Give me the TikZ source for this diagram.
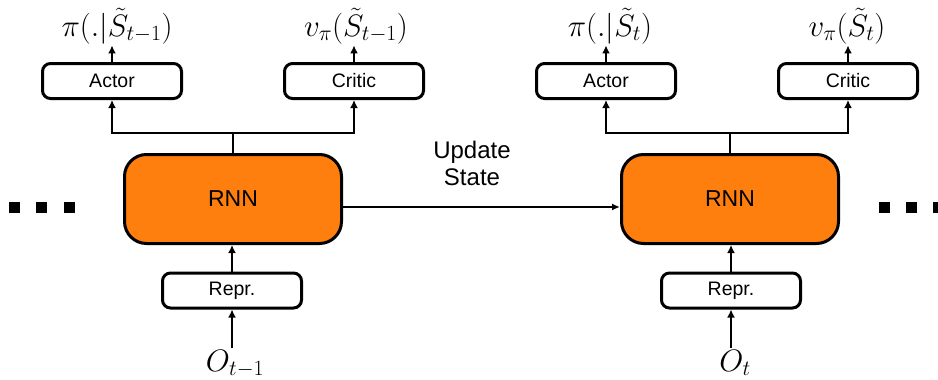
\RequirePackage{fix-cm}
\documentclass[tikz,border=0pt]{standalone}
\usepackage[no-math]{fontspec}
\setmainfont{Liberation Sans}
\usetikzlibrary{arrows.meta}
\definecolor{rnnorange}{RGB}{255,127,14}
\begin{document}
\begin{tikzpicture}[x=1pt,y=-1pt,
  smallbox/.style={draw, line width=3pt, rounded corners=8pt, minimum width=139pt, minimum height=35pt, inner sep=0pt, fill=white, font=\fontsize{19.5}{22}\selectfont},
  rnnbox/.style={draw, line width=3pt, rounded corners=22pt, fill=rnnorange, minimum width=217pt, minimum height=89pt, inner sep=0pt, font=\fontsize{23}{26}\selectfont},
  mlabel/.style={inner sep=1.5pt, font=\fontsize{31}{34}\selectfont},
  arr/.style={line width=2.8pt, -{Latex[length=8pt,width=8pt]}},
  thinarr/.style={line width=2pt, -{Latex[length=8pt,width=7pt]}},
  sq/.style={fill=black, minimum size=11pt, inner sep=0pt},
  note/.style={align=center, font=\fontsize{24}{27}\selectfont}]
\useasboundingbox (0,0) rectangle (938,380);

% ---- left step ----
\node[smallbox] (actor1) at (112,81) {Actor};
\node[smallbox] (critic1) at (354,81) {Critic};
\node[rnnbox] (rnn1) at (233,199) {RNN};
\node[smallbox] (repr1) at (232,290.5) {Repr.};
\node[mlabel, anchor=base] (pi1) at (117,36) {$\pi(.|\tilde{S}_{t-1})$};
\node[mlabel, anchor=base] (v1) at (356,36) {$v_\pi(\tilde{S}_{t-1})$};
\node[mlabel, anchor=base] (o1) at (235,371) {$O_{t-1}$};
\coordinate (b1) at (233,133);

% ---- right step ----
\node[smallbox] (actor2) at (606,81) {Actor};
\node[smallbox] (critic2) at (848,81) {Critic};
\node[rnnbox] (rnn2) at (730,199) {RNN};
\node[smallbox] (repr2) at (731,290.5) {Repr.};
\node[mlabel, anchor=base] (pi2) at (610,36) {$\pi(.|\tilde{S}_{t})$};
\node[mlabel, anchor=base] (v2) at (847,36) {$v_\pi(\tilde{S}_{t})$};
\node[mlabel, anchor=base] (o2) at (735,371) {$O_{t}$};
\coordinate (b2) at (730,133);

\node[note] (upd) at (472,163) {Update\\State};

% dots
\node[sq] (dl1) at (14,207) {};
\node[sq] (dl2) at (41,207) {};
\node[sq] (dl3) at (69,207) {};
\node[sq] (dr1) at (884,207) {};
\node[sq] (dr2) at (911,207) {};
\node[sq] (dr3) at (938,207) {};

% connectors left
\draw[line width=2.8pt] (rnn1.north -| b1) -- (b1);
\draw[arr] (b1) -| (actor1.south);
\draw[arr] (b1) -| (critic1.south);
\draw[arr] (actor1.north) -- (actor1.north |- pi1.south);
\draw[arr] (critic1.north) -- (critic1.north |- v1.south);
\draw[arr] (repr1.north) -- (repr1.north |- rnn1.south);
\draw[arr] (o1.north -| repr1.south) -- (repr1.south);

% connectors right
\draw[line width=2.8pt] (rnn2.north -| b2) -- (b2);
\draw[arr] (b2) -| (actor2.south);
\draw[arr] (b2) -| (critic2.south);
\draw[arr] (actor2.north) -- (actor2.north |- pi2.south);
\draw[arr] (critic2.north) -- (critic2.north |- v2.south);
\draw[arr] (repr2.north) -- (repr2.north |- rnn2.south);
\draw[arr] (o2.north -| repr2.south) -- (repr2.south);

% state update
\draw[thinarr] ([yshift=-8pt]rnn1.east) -- ([yshift=-8pt]rnn2.west);
\end{tikzpicture}
\end{document}
